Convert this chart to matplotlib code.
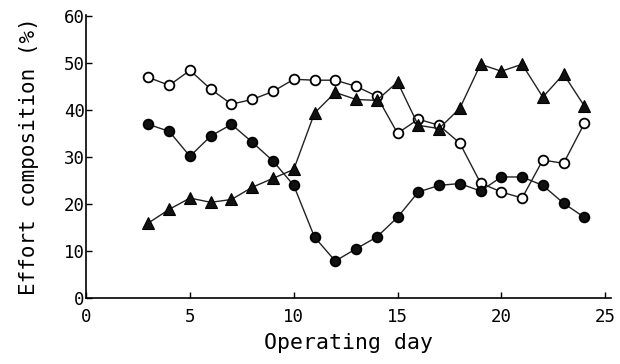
import matplotlib
matplotlib.use("Agg")
import matplotlib.pyplot as plt

days = list(range(3, 25))
open_circle = [47.0, 45.3, 48.5, 44.5, 41.3, 42.3, 44.0, 46.6, 46.4, 46.4, 45.1,
               43.0, 35.1, 38.1, 36.8, 33.0, 24.5, 22.6, 21.3, 29.4, 28.7, 37.2]
filled_circle = [37.0, 35.5, 30.2, 34.5, 37.0, 33.2, 29.2, 24.0, 13.0, 7.9, 10.5,
                 13.0, 17.2, 22.6, 24.0, 24.4, 22.8, 25.8, 25.8, 24.0, 20.2, 17.2]
triangle = [16.0, 18.9, 21.3, 20.4, 21.0, 23.6, 25.5, 27.4, 39.4, 43.8, 42.3,
            42.1, 46.0, 36.8, 36.1, 40.4, 49.8, 48.3, 49.8, 42.8, 47.7, 40.9]
xticks = [0, 5, 10, 15, 20, 25]
yticks = [0, 10, 20, 30, 40, 50, 60]

plt.rcParams['font.family'] = ['DejaVu Sans Mono']

fig = plt.figure(figsize=(6.2, 3.64), dpi=100)
ax = fig.add_axes([0.139, 0.181, 0.847, 0.778])

line_kw = dict(color='#222222', lw=1.0, ms=7, mec='black', mew=1.3)
ax.plot(days, open_circle, marker='o', mfc='white', **line_kw)
ax.plot(days, filled_circle, marker='o', mfc='#111111', **line_kw)
ax.plot(days, triangle, marker='^', mfc='#111111', ms=8, color='#222222',
        lw=1.0, mec='black', mew=0.8)

ax.set_xlim(0, 25.3)
ax.set_ylim(0, 60.3)
ax.set_xticks(xticks)
ax.set_yticks(yticks)
ax.tick_params(direction='in', length=4, width=1, labelsize=12.5)
ax.tick_params(axis='x', pad=7)
ax.tick_params(axis='y', pad=1)
for s in ['top', 'right']:
    ax.spines[s].set_visible(False)
for s in ['left', 'bottom']:
    ax.spines[s].set_linewidth(1.2)

ax.set_xlabel('Operating day', fontsize=15.5, labelpad=5)
ax.set_ylabel('Effort composition (%)', fontsize=15, labelpad=18)

fig.savefig('out.png', dpi=100)
